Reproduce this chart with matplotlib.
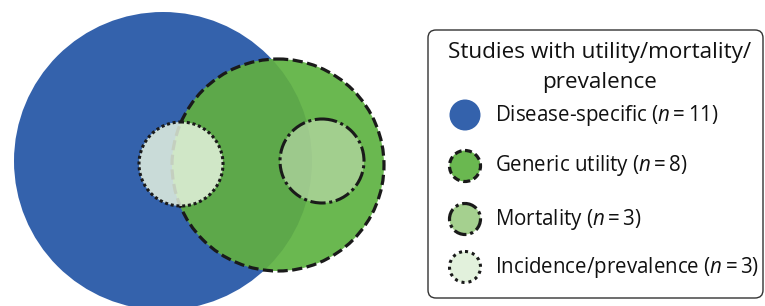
import matplotlib.pyplot as plt
from matplotlib.patches import Circle, FancyBboxPatch

# legend data
categories = ['Disease-specific', 'Generic utility', 'Mortality', 'Incidence/prevalence']
counts = [11, 8, 3, 3]
legend_title = 'Studies with utility/mortality/\nprevalence'

plt.rcParams['font.family'] = ['Open Sans', 'DejaVu Sans']
plt.rcParams['mathtext.fontset'] = 'custom'
plt.rcParams['mathtext.rm'] = 'Open Sans'
plt.rcParams['mathtext.it'] = 'Open Sans:italic'

BLUE = '#3462ac'
GREEN = '#6ab850'
GREEN_OVER = '#5da84a'
MORT = (201 / 255, 224 / 255, 185 / 255, 0.6)
INC = (232 / 255, 245 / 255, 226 / 255, 0.83)
EDGE = '#1a1a1a'

DASHED = (0, (3.2, 1.4))
DASHDOT = (0, (5, 1.2, 1, 1.2))
DOTTED = (0, (1, 0.9))

fig = plt.figure(figsize=(7.65, 3.06), dpi=100)
ax = fig.add_axes([0, 0, 1, 1])
ax.set_xlim(0, 765)
ax.set_ylim(306, 0)
ax.set_aspect('equal')
ax.axis('off')

# circle layout (pixel coordinates)
blue = Circle((163, 161), 149, facecolor=BLUE, edgecolor='none', zorder=1)
ax.add_patch(blue)

ax.add_patch(Circle((278, 165), 106, facecolor=GREEN, edgecolor='none', zorder=2))
over = Circle((278, 165), 106, facecolor=GREEN_OVER, edgecolor='none', zorder=3)
ax.add_patch(over)
over.set_clip_path(blue)
ax.add_patch(Circle((278, 165), 106, facecolor='none', edgecolor=EDGE,
                    lw=2.3, linestyle=DASHED, zorder=4))

ax.add_patch(Circle((322, 161), 42, facecolor=MORT, edgecolor=EDGE,
                    lw=2.2, linestyle=DASHDOT, zorder=5))
ax.add_patch(Circle((181, 164), 42, facecolor=INC, edgecolor=EDGE,
                    lw=2.2, linestyle=DOTTED, zorder=5))

# legend box
box = FancyBboxPatch((428, 30), 335, 268, boxstyle='round,pad=0,rounding_size=8',
                     facecolor='white', edgecolor='#333333', lw=1, zorder=6)
ax.add_patch(box)
ax.text(600, 67.5, legend_title, ha='center', va='center', fontsize=16.2,
        linespacing=1.55, color='#111111', zorder=7)

legend_y = [115, 166, 219, 267]
marker_styles = [
    dict(facecolor=BLUE, edgecolor='none'),
    dict(facecolor=GREEN, edgecolor=EDGE, lw=2.3, linestyle=(0, (2.2, 1.2))),
    dict(facecolor='#a5d08f', edgecolor=EDGE, lw=2.3, linestyle=(0, (4, 1.2, 1, 1.2))),
    dict(facecolor='#e2f1dc', edgecolor=EDGE, lw=2.2, linestyle=(0, (1, 1.3))),
]
for cat, n, y, st in zip(categories, counts, legend_y, marker_styles):
    ax.add_patch(Circle((465, y), 15.5, zorder=7, **st))
    ax.text(495, y, f'{cat} ($n$\u2009=\u2009{n})', ha='left', va='center',
            fontsize=14.8, color='#111111', zorder=7)

fig.savefig('out.png', dpi=100)
